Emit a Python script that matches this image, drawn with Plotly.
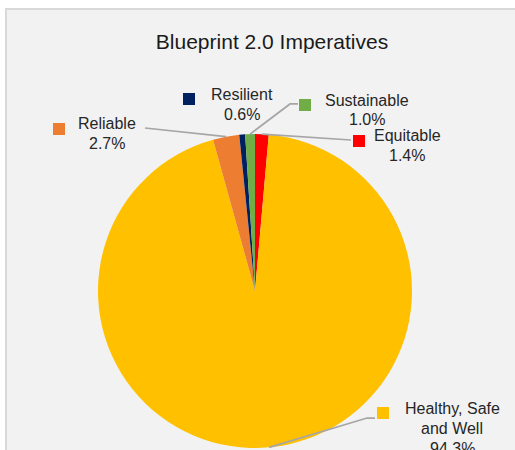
import math
import plotly.graph_objects as go

# Share of projects per Blueprint 2.0 imperative (percent), clockwise from 12 o'clock
categories = ["Equitable", "Healthy, Safe and Well", "Reliable", "Resilient", "Sustainable"]
values = [1.4, 94.3, 2.7, 0.6, 1.0]
colors = ["#FF0000", "#FFC000", "#ED7D31", "#002060", "#70AD47"]
label_lines = [
    ["Equitable", "1.4%"],
    ["Healthy, Safe", "and Well", "94.3%"],
    ["Reliable", "2.7%"],
    ["Resilient", "0.6%"],
    ["Sustainable", "1.0%"],
]

W, H = 515, 450
CX, CY, R = 255, 291, 157  # pie centre and radius in pixels


def px(x):
    return x / W


def py(y):
    return 1 - y / H


def edge_point(i):
    """Pixel point on the pie rim at the middle of slice i."""
    total = sum(values)
    start = sum(values[:i])
    theta = math.radians(360 * (start + values[i] / 2) / total)
    return CX + R * math.sin(theta), CY - R * math.cos(theta)


fig = go.Figure(
    go.Pie(
        labels=categories,
        values=values,
        sort=False,
        direction="clockwise",
        rotation=0,
        marker=dict(colors=colors, line=dict(width=0)),
        textinfo="none",
        hoverinfo="label+percent",
        showlegend=False,
        domain=dict(x=[px(CX - R), px(CX + R)], y=[py(CY + R), py(CY - R)]),
    )
)

font = dict(family="Arial, Liberation Sans, sans-serif", color="#262626")

# Label placement: text centre x, first-line centre y, key square (x0, y0)
label_pos = {
    "Equitable": (407, 135, (353, 135)),
    "Healthy, Safe and Well": (452, 408, (377, 407)),
    "Reliable": (107, 123.5, (53, 123)),
    "Resilient": (242, 94, (183, 93)),
    "Sustainable": (367, 100, (299, 99)),
}
LINE_GAP = 20
SQ = 12

annotations = []
shapes = [
    # chart area background and border
    dict(type="rect", xref="paper", yref="paper", layer="below",
         x0=px(6), x1=px(W + 50), y0=py(H + 50), y1=py(9),
         fillcolor="#F2F2F2", line=dict(color="#D9D9D9", width=2)),
]

for i, name in enumerate(categories):
    tx, ty, (sx, sy) = label_pos[name]
    for k, line in enumerate(label_lines[i]):
        annotations.append(dict(
            x=px(tx), y=py(ty + k * LINE_GAP), xref="paper", yref="paper",
            text=line, showarrow=False, xanchor="center", yanchor="middle",
            font=dict(size=16, **font),
        ))
    shapes.append(dict(
        type="rect", xref="paper", yref="paper",
        x0=px(sx), x1=px(sx + SQ), y0=py(sy + SQ), y1=py(sy),
        fillcolor=colors[i], line=dict(width=0),
    ))

# Leader lines from slice rims to their labels
leader_targets = {
    "Reliable": [(145, 128)],
    "Sustainable": [(290, 104), (298, 104)],
    "Equitable": [(351, 140)],
    "Healthy, Safe and Well": [(367, 418), (375, 418)],
}
for i, name in enumerate(categories):
    if name not in leader_targets:
        continue
    ex, ey = edge_point(i)
    pts = [(ex, ey)] + leader_targets[name]
    path = "M " + " L ".join(f"{px(x):.5f},{py(y):.5f}" for x, y in pts)
    shapes.append(dict(type="path", xref="paper", yref="paper", path=path,
                       line=dict(color="#A6A6A6", width=1.75)))

fig.update_layout(
    width=W, height=H,
    margin=dict(l=0, r=0, t=0, b=0),
    paper_bgcolor="#FFFFFF",
    title=dict(text="Blueprint 2.0 Imperatives", x=px(272), y=py(42),
               xanchor="center", yanchor="middle",
               font=dict(size=21, family="Arial, Liberation Sans, sans-serif", color="#1A1A1A")),
    annotations=annotations,
    shapes=shapes,
)

fig.write_html("out.html")
